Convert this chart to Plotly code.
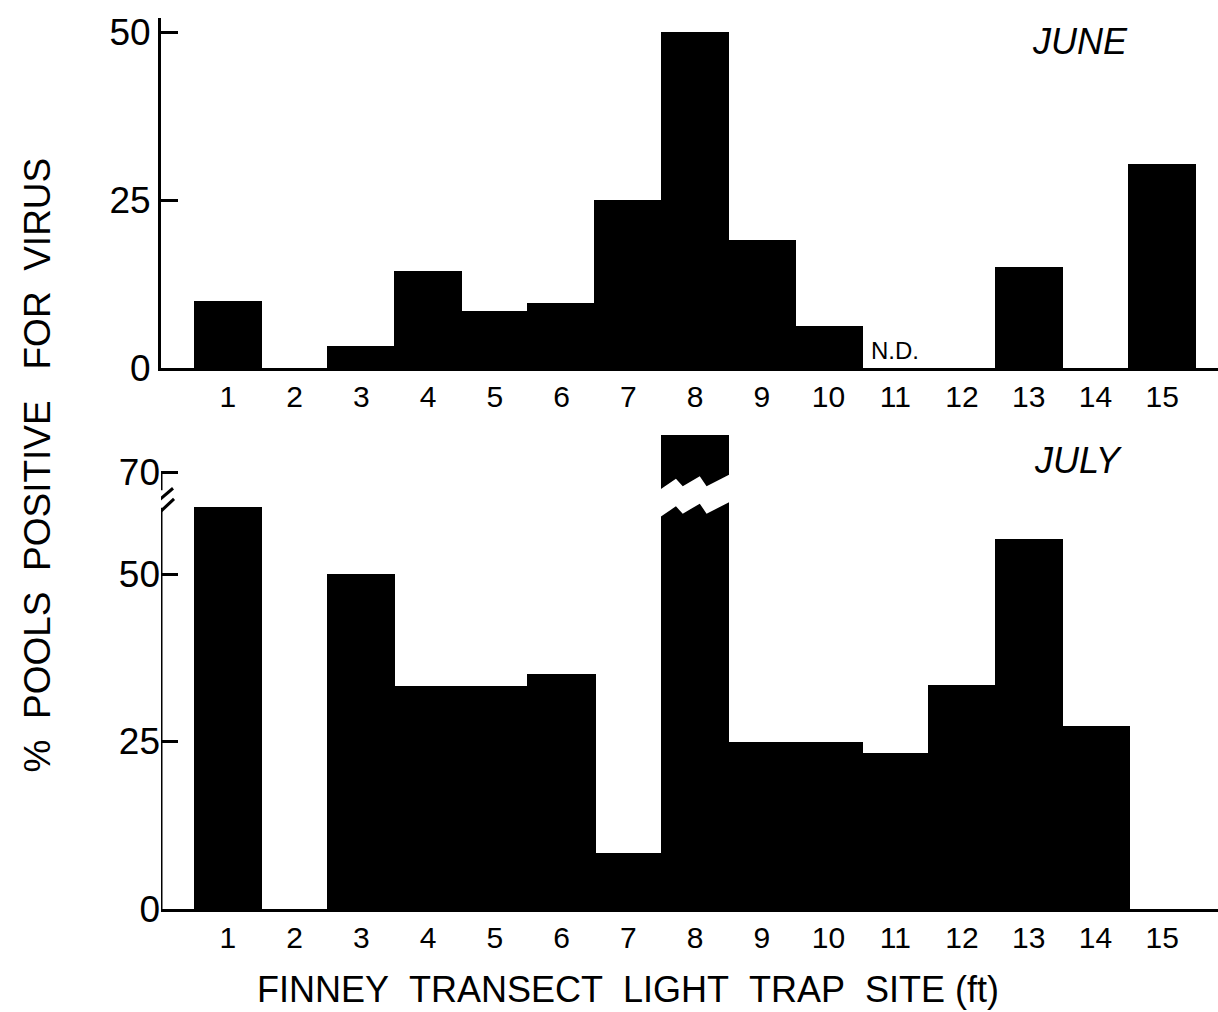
import plotly.graph_objects as go

# Finney transect light trap sites
sites = list(range(1, 16))
site_labels = [str(s) for s in sites]

# % pools positive for virus, June (site 11 not determined)
june_pct = [10.0, 0, 3.3, 14.4, 8.5, 9.7, 25.0, 50.0, 19.0, 6.3, None, 0, 15.0, 0, 30.4]
# % pools positive for virus, July (site 8 runs past the axis break)
july_pct = [60.0, 0, 50.0, 33.3, 33.3, 35.1, 8.4, 75.5, 25.0, 25.0, 23.3, 33.4, 55.2, 27.3, 0]

june_ticks = [0, 25, 50]
july_ticks = [0, 25, 50, 70]

# broken July axis: values above BREAK_AT are shifted down by AXIS_GAP
BREAK_AT = 61.5
AXIS_GAP = 4.8


def july_scale(v):
    if v is None:
        return None
    return v if v <= BREAK_AT else v - AXIS_GAP


W, H = 1218, 1012
LEFT = 161
FONT = "Liberation Sans, Arial, sans-serif"
BAR_W = 1.02
X_MAX = (W - LEFT) / 66.75


def py(pix):
    return 1 - pix / H


def px(pix):
    return (pix - LEFT) / (W - LEFT)


fig = go.Figure()
fig.add_trace(go.Bar(x=sites, y=june_pct, width=BAR_W, marker=dict(color="black", line=dict(width=0)),
                     xaxis="x", yaxis="y", showlegend=False))
fig.add_trace(go.Bar(x=sites, y=[july_scale(v) for v in july_pct], customdata=july_pct, width=BAR_W,
                     marker=dict(color="black", line=dict(width=0)),
                     xaxis="x2", yaxis="y2", showlegend=False))

# June panel: 0 at y=368 px, 6.72 px per percent
june_top = (368 - 18) / 6.72
# July panel: 0 at y=909 px, 6.70 px per display unit
july_top = (909 - 425) / 6.70

xcommon = dict(range=[0, X_MAX], tickmode="array", tickvals=sites, ticktext=site_labels,
               ticks="", showline=True, linewidth=3, linecolor="black", showgrid=False,
               zeroline=False, tickfont=dict(size=30, family=FONT, color="black"),
               ticklabelstandoff=0, automargin=False)
ycommon = dict(ticks="inside", ticklen=17, tickwidth=3, tickcolor="black", showgrid=False,
               zeroline=False, tickfont=dict(size=37, family=FONT, color="black"), tickmode="array",
               automargin=False)

fig.update_layout(
    width=W, height=H,
    margin=dict(l=LEFT, r=0, t=0, b=0),
    paper_bgcolor="white", plot_bgcolor="white",
    bargap=0,
    xaxis=dict(domain=[0, 1], anchor="y", **xcommon),
    yaxis=dict(domain=[py(368), py(18)], anchor="x", range=[0, june_top],
               tickvals=june_ticks, ticktext=[str(t) for t in june_ticks],
               showline=True, linewidth=3, linecolor="black", **ycommon),
    xaxis2=dict(domain=[0, 1], anchor="y2", **xcommon),
    yaxis2=dict(domain=[py(909), py(425)], anchor="x2", range=[0, july_top],
                tickvals=[july_scale(t) for t in july_ticks], ticktext=[str(t) for t in july_ticks],
                showline=False, **ycommon),
)

shapes = []
# July y-axis line, interrupted at the break
brk = BREAK_AT
shapes.append(dict(type="line", xref="x2", yref="y2", x0=0, x1=0, y0=0, y1=brk - 1.6,
                   line=dict(color="black", width=3)))
shapes.append(dict(type="line", xref="x2", yref="y2", x0=0, x1=0, y0=brk + 1.0, y1=july_scale(70),
                   line=dict(color="black", width=3)))
# break slashes
for dy0, dy1, xa, xb in [(-1.4, 1.3, -0.135, 0.18), (-3.1, -0.3, -0.105, 0.195)]:
    shapes.append(dict(type="line", xref="x2", yref="y2", x0=xa, x1=xb, y0=brk + dy0, y1=brk + dy1,
                       line=dict(color="black", width=3)))

# jagged white break across the tall July bar
tall = sites[july_pct.index(max(july_pct))]
left, right = tall - BAR_W / 2, tall + BAR_W / 2
upper = [(0.0, 1.2), (0.22, 2.7), (0.32, 1.6), (0.57, 3.1), (0.67, 1.6), (1.0, 3.3)]
gap = 4.1
pts_up = [(left - 0.05, brk + upper[0][1])] + [(left + f * (right - left), brk + d) for f, d in upper] + \
         [(right + 0.05, brk + upper[-1][1])]
pts_lo = [(x, y - gap) for x, y in reversed(pts_up)]
path = "M " + " L ".join(f"{x:.4f},{y:.4f}" for x, y in pts_up + pts_lo) + " Z"
shapes.append(dict(type="path", xref="x2", yref="y2", path=path, fillcolor="white",
                   line=dict(width=0)))

fig.update_layout(shapes=shapes)

ann = [
    dict(text="<i>JUNE</i>", x=13.77, y=48.6, xref="x", yref="y", showarrow=False,
         font=dict(size=36, family=FONT, color="black")),
    dict(text="<i>JULY</i>", x=13.75, y=67.0, xref="x2", yref="y2", showarrow=False,
         font=dict(size=36, family=FONT, color="black")),
    dict(text="N.D.", x=11.0, y=0.3, xref="x", yref="y", showarrow=False, yanchor="bottom",
         font=dict(size=24, family=FONT, color="black")),
    dict(text="%&nbsp;&nbsp;POOLS&nbsp;&nbsp;POSITIVE&nbsp;&nbsp;&nbsp;FOR&nbsp;&nbsp;VIRUS",
         x=px(14), y=py(465), xref="paper", yref="paper", xanchor="left", yanchor="middle",
         textangle=-90, showarrow=False, font=dict(size=37, family=FONT, color="black")),
    dict(text="FINNEY&nbsp;&nbsp;TRANSECT&nbsp;&nbsp;LIGHT&nbsp;&nbsp;TRAP&nbsp;&nbsp;SITE&nbsp;(ft)",
         x=px(628), y=0, xref="paper", yref="paper", xanchor="center", yanchor="bottom",
         showarrow=False, font=dict(size=36, family=FONT, color="black")),
]
fig.update_layout(annotations=ann)

fig.write_html("out.html")
